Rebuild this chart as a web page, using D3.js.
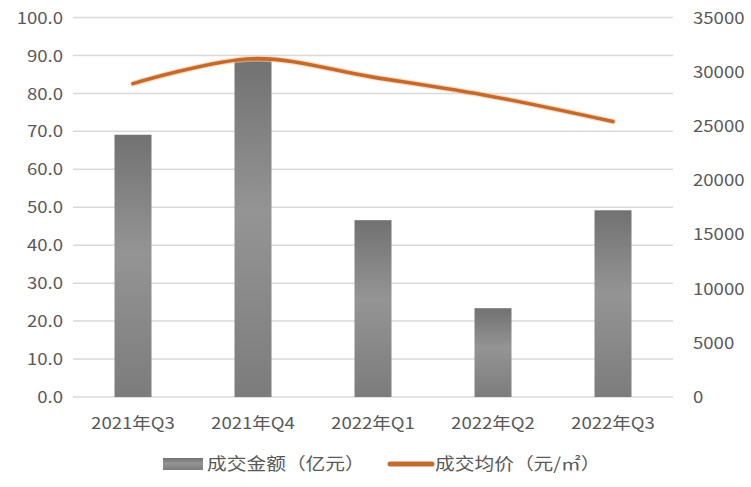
<!DOCTYPE html>
<html>
<head>
<meta charset="utf-8">
<script src="https://cdn.jsdelivr.net/npm/d3@7"></script>
<style>
  body { margin: 0; background: #fff; }
  text { font-family: "Noto Sans CJK SC", "Liberation Sans", sans-serif; fill: #595959; }
</style>
</head>
<body>
<div id="chart"></div>
<script>
// chart data
var quarters = ['2021年Q3', '2021年Q4', '2022年Q1', '2022年Q2', '2022年Q3']
var amount = [69.1, 88.8, 46.6, 23.4, 49.2]       // 成交金额（亿元）
var price = [28900, 31200, 29500, 27700, 25400]   // 成交均价（元/㎡）
var leftTicks = [0, 10, 20, 30, 40, 50, 60, 70, 80, 90, 100]
var rightTicks = [0, 5000, 10000, 15000, 20000, 25000, 30000, 35000]
var seriesNames = ['成交金额（亿元）', '成交均价（元/㎡）']

var w = 751
  , h = 487
  , x0 = 73
  , x1 = 673
  , yTop = 17.5
  , yBot = 397

var svg = d3.select('#chart').append('svg').attr('width', w).attr('height', h)

var defs = svg.append('defs')
var grad = defs.append('linearGradient').attr('id', 'barfill')
             .attr('x1', 0).attr('y1', 0).attr('x2', 0).attr('y2', 1)
grad.append('stop').attr('offset', '0%').attr('stop-color', '#727272')
grad.append('stop').attr('offset', '45%').attr('stop-color', '#949494')
grad.append('stop').attr('offset', '100%').attr('stop-color', '#7c7c7c')

var x = d3.scaleBand().domain(quarters).range([x0, x1])
var y = d3.scaleLinear().domain([0, 100]).range([yBot, yTop])
var y2 = d3.scaleLinear().domain([0, 35000]).range([yBot, yTop])

// grid
svg.append('g').selectAll('line').data(leftTicks)
  .enter().append('line')
  .attr('x1', x0).attr('x2', x1)
  .attr('y1', function (d) { return y(d) }).attr('y2', function (d) { return y(d) })
  .attr('stroke', '#d9d9d9').attr('stroke-width', 1.5)

// left axis
var ya = svg.append('g').attr('transform', 'translate(' + (x0 - 7) + ',0)')
  .call(d3.axisLeft(y).tickValues(leftTicks).tickFormat(d3.format('.1f')).tickSize(0))
ya.select('.domain').remove()
ya.selectAll('text').style('font-size', '16px').attr('dy', '0.35em')

// right axis
var yb = svg.append('g').attr('transform', 'translate(' + (x1 + 17) + ',0)')
  .call(d3.axisRight(y2).tickValues(rightTicks).tickFormat(d3.format('d')).tickSize(0))
yb.select('.domain').remove()
yb.selectAll('text').style('font-size', '16px').attr('dy', '0.35em')

// x axis
var xa = svg.append('g').attr('transform', 'translate(0,' + (yBot + 17) + ')')
  .call(d3.axisBottom(x).tickSize(0))
xa.select('.domain').remove()
xa.selectAll('text').style('font-size', '16px').attr('dy', '0.75em')

// bars
var bw = 37
svg.append('g').selectAll('rect').data(amount)
  .enter().append('rect')
  .attr('x', function (d, i) { return x(quarters[i]) + x.bandwidth() / 2 - bw / 2 })
  .attr('y', function (d) { return y(d) })
  .attr('width', bw)
  .attr('height', function (d) { return yBot - y(d) })
  .attr('fill', 'url(#barfill)')

// price line
var line = d3.line()
  .x(function (d, i) { return x(quarters[i]) + x.bandwidth() / 2 })
  .y(function (d) { return y2(d) })
  .curve(d3.curveCatmullRom.alpha(0.5))

svg.append('path').datum(price)
  .attr('d', line)
  .attr('fill', 'none')
  .attr('stroke', '#f3c9a0').attr('stroke-width', 6).attr('stroke-linecap', 'round')
  .attr('opacity', 0.6)
svg.append('path').datum(price)
  .attr('d', line)
  .attr('fill', 'none')
  .attr('stroke', '#c66a2c').attr('stroke-width', 3.6).attr('stroke-linecap', 'round')

// legend
var lg = svg.append('g').attr('transform', 'translate(0,' + 464 + ')')
lg.append('rect').attr('x', 163).attr('y', -6).attr('width', 40).attr('height', 12).attr('fill', 'url(#barfill)')
lg.append('text').attr('x', 207).attr('y', 0).attr('dy', '0.35em').style('font-size', '17px').text(seriesNames[0])
lg.append('line').attr('x1', 390).attr('x2', 432).attr('y1', 0).attr('y2', 0)
  .attr('stroke', '#c66a2c').attr('stroke-width', 5).attr('stroke-linecap', 'round')
lg.append('text').attr('x', 435).attr('y', 0).attr('dy', '0.35em').style('font-size', '17px').text(seriesNames[1])

// the source text is set wider than this font; stretch each label a little
svg.selectAll('text').each(function () {
  var len = this.getComputedTextLength()
  d3.select(this).attr('textLength', len * 1.16).attr('lengthAdjust', 'spacingAndGlyphs')
})
</script>
</body>
</html>
